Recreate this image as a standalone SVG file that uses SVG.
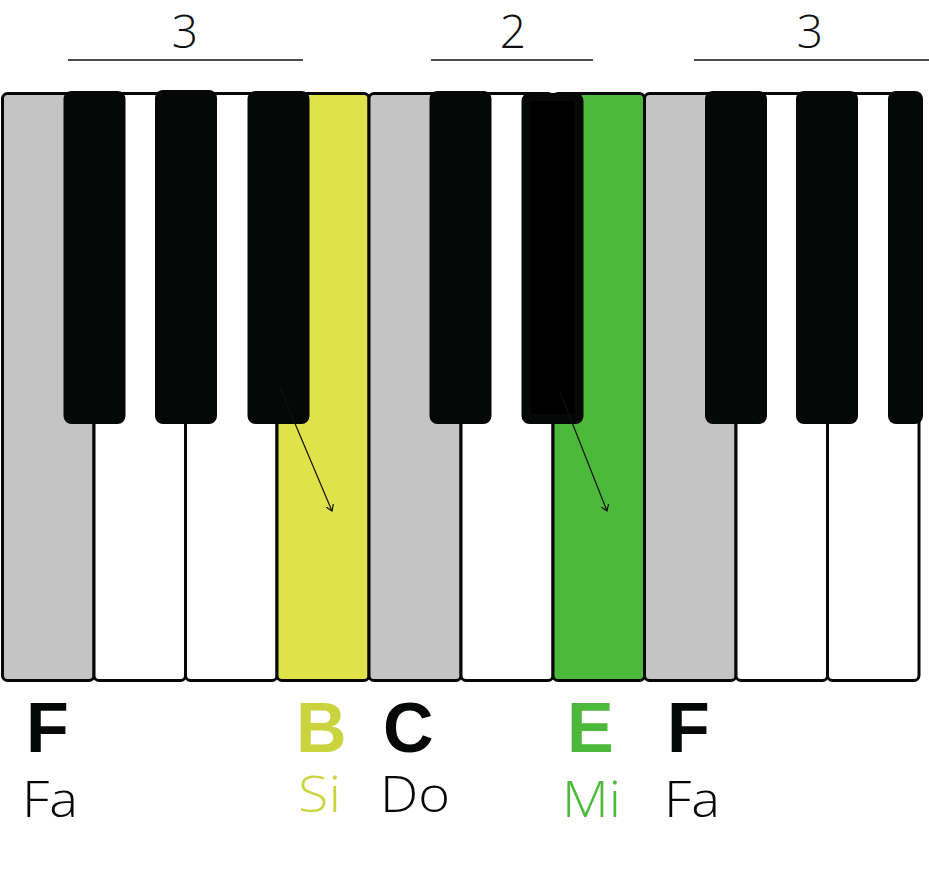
<svg xmlns="http://www.w3.org/2000/svg" width="929" height="872" viewBox="0 0 929 872">
<defs>
<style>
.w{fill:#ffffff;stroke:#050807;stroke-width:3}
.g{fill:#c4c4c4}
.y{fill:#dfe249}
.gr{fill:#4cb93a}
.b{fill:#050807}
.num{font-family:"Open Sans","Liberation Sans",sans-serif;font-weight:300;font-size:46px;fill:#111;text-anchor:middle}
.bar{stroke:#111;stroke-width:1.6}
.lt{font-family:"Liberation Sans","Open Sans",sans-serif;font-weight:700;font-size:70px}
.sm{font-family:"Open Sans","Liberation Sans",sans-serif;font-weight:300;font-size:49px}
.arr{stroke:#111;stroke-width:1.2;fill:none}
</style>
<marker id="ah" markerWidth="8" markerHeight="8" refX="6" refY="4" orient="auto" markerUnits="userSpaceOnUse">
<path d="M0,0 L6,4 L0,8" fill="none" stroke="#111" stroke-width="1.2"/>
</marker>
</defs>
<rect width="929" height="872" fill="#ffffff"/>
<g id="intervals">
<text class="num" x="185" y="48">3</text>
<line class="bar" x1="68" y1="60" x2="303" y2="60"/>
<text class="num" x="513" y="48">2</text>
<line class="bar" x1="431" y1="60" x2="593" y2="60"/>
<text class="num" x="810" y="48">3</text>
<line class="bar" x1="694" y1="60" x2="929" y2="60"/>
</g>
<g id="white-keys">
<rect id="key-F1" class="w g" x="2.5" y="93.5" width="91.5" height="587" rx="5"/>
<rect id="key-G" class="w" x="94" y="93.5" width="91.5" height="587" rx="5"/>
<rect id="key-A" class="w" x="185.5" y="93.5" width="91.5" height="587" rx="5"/>
<rect id="key-B" class="w y" x="277" y="93.5" width="92" height="587" rx="5"/>
<rect id="key-C" class="w g" x="369" y="93.5" width="92" height="587" rx="5"/>
<rect id="key-D" class="w" x="461" y="93.5" width="92" height="587" rx="5"/>
<rect id="key-E" class="w gr" x="553" y="93.5" width="91.5" height="587" rx="5"/>
<rect id="key-F2" class="w g" x="644.5" y="93.5" width="91.5" height="587" rx="5"/>
<rect id="key-G2" class="w" x="736" y="93.5" width="91.5" height="587" rx="5"/>
<rect id="key-A2" class="w" x="827.5" y="93.5" width="91.5" height="587" rx="5"/>
</g>
<g id="black-keys">
<rect class="b" x="63.5" y="91" width="62" height="333" rx="8"/>
<rect class="b" x="155" y="90" width="62" height="334" rx="8"/>
<rect class="b" x="247.5" y="91" width="62" height="333" rx="8"/>
<rect class="b" x="429.5" y="91" width="62" height="333" rx="8"/>
<rect class="b" x="521.5" y="93" width="62" height="331" rx="8"/>
<rect x="531" y="101" width="43" height="313" fill="#000000"/>
<rect class="b" x="705" y="91" width="62" height="333" rx="8"/>
<rect class="b" x="796" y="91" width="62" height="333" rx="8"/>
<rect class="b" x="888" y="91" width="35" height="333" rx="8"/>
</g>
<g id="connectors">
<line class="arr" x1="280" y1="388" x2="332" y2="511" marker-end="url(#ah)"/>
<line class="arr" x1="560" y1="392" x2="607" y2="511" marker-end="url(#ah)"/>
</g>
<g id="labels">
<text class="lt" x="26" y="752" fill="#050807">F</text>
<text class="sm" x="22" y="817" fill="#050807" textLength="56" lengthAdjust="spacingAndGlyphs">Fa</text>
<text class="lt" x="296" y="752" fill="#c9d43f">B</text>
<text class="sm" x="298" y="812" fill="#c9d43f" textLength="43" lengthAdjust="spacingAndGlyphs">Si</text>
<text class="lt" x="383" y="752" fill="#050807">C</text>
<text class="sm" x="380" y="812" fill="#050807" textLength="70" lengthAdjust="spacingAndGlyphs">Do</text>
<text class="lt" x="567" y="752" fill="#4cb93a">E</text>
<text class="sm" x="562" y="817" fill="#4cb93a" textLength="59" lengthAdjust="spacingAndGlyphs">Mi</text>
<text class="lt" x="667" y="752" fill="#050807">F</text>
<text class="sm" x="664" y="817" fill="#050807" textLength="56" lengthAdjust="spacingAndGlyphs">Fa</text>
</g>
</svg>
